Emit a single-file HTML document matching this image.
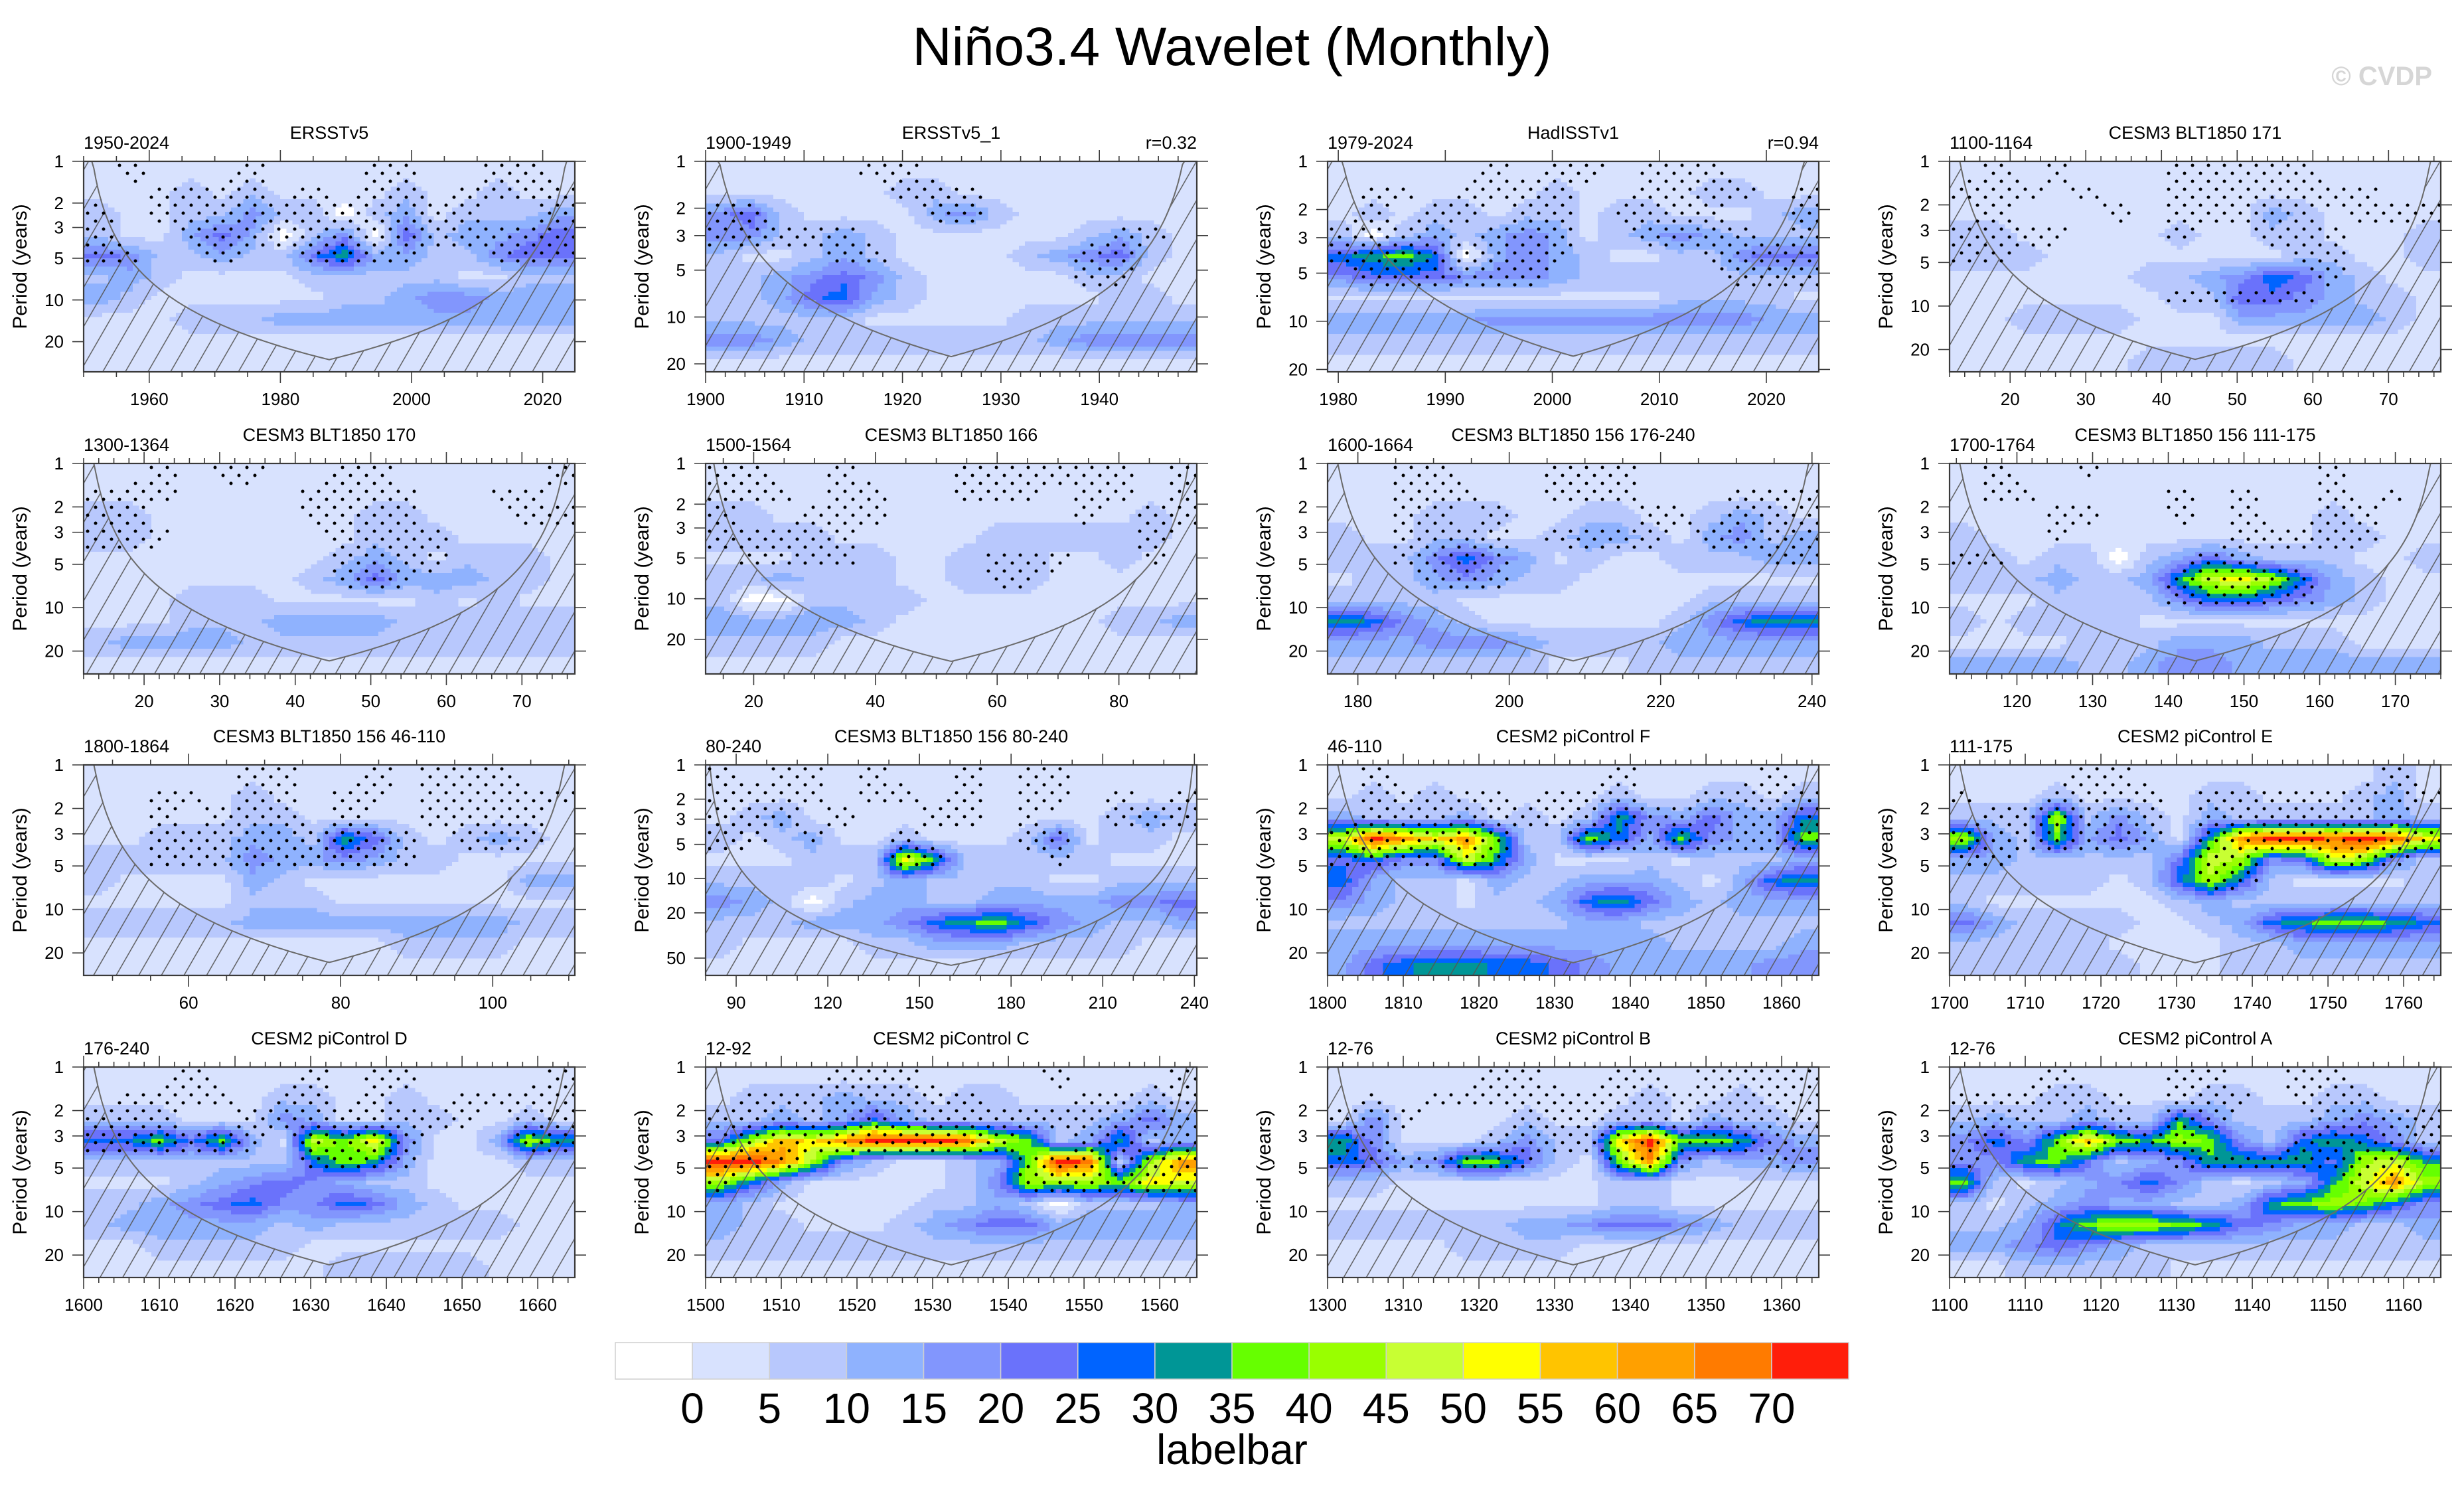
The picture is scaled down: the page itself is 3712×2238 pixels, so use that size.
<!DOCTYPE html>
<html><head><meta charset="utf-8"><title>Niño3.4 Wavelet (Monthly)</title>
<style>
html,body{margin:0;padding:0;background:#fff;}
svg{display:block;font-family:"Liberation Sans",Arial,sans-serif;}
</style></head>
<body>
<svg id="chart" xmlns="http://www.w3.org/2000/svg" width="3712" height="2238" viewBox="0 0 3712 2238">
<defs>
<pattern id="hatch" patternUnits="userSpaceOnUse" width="29.5" height="40" patternTransform="rotate(30)">
<line x1="1" y1="0" x2="1" y2="40" stroke="#555" stroke-width="1.4"/>
</pattern>
</defs>
<rect x="0" y="0" width="3712" height="2238" fill="#fff"/>
<text x="1856" y="98" text-anchor="middle" font-size="82" fill="#000">Niño3.4 Wavelet (Monthly)</text>
<text x="3664" y="128" text-anchor="end" font-size="40" font-weight="bold" fill="#d6d6d6">© CVDP</text>
</svg>
<script>
// ---------- panel metadata ----------
const panelTitles = ["ERSSTv5","ERSSTv5_1","HadISSTv1","CESM3 BLT1850 171","CESM3 BLT1850 170","CESM3 BLT1850 166","CESM3 BLT1850 156 176-240","CESM3 BLT1850 156 111-175","CESM3 BLT1850 156 46-110","CESM3 BLT1850 156 80-240","CESM2 piControl F","CESM2 piControl E","CESM2 piControl D","CESM2 piControl C","CESM2 piControl B","CESM2 piControl A"];
const panelYears = ["1950-2024","1900-1949","1979-2024","1100-1164","1300-1364","1500-1564","1600-1664","1700-1764","1800-1864","80-240","46-110","111-175","176-240","12-92","12-76","12-76"];
const rLabels = ["","r=0.32","r=0.94","","","","","","","","","","","","",""];
const xStart = [1950,1900,1979,12,12,12.1,176,111.1,46.2,80,1800,1700,1600,1500,1300,1100];
const xEnd = [2024.9,1949.9,2024.9,76.9,77,92.8,240.9,176,110.8,240.8,1864.9,1764.9,1664.9,1564.9,1364.9,1164.9];
const xMajorStep = [20,10,10,10,10,20,20,10,20,30,10,10,10,10,10,10];
const xMinorStep = [5,2,0,2,2,5,5,2,5,10,2,2,2,2,2,2];
const pMax = [33,22.5,20.7,28.5,28.8,36,28.8,28.8,28.6,71,28.6,28.6,28.6,28.6,28.6,28.6];
const yTickValues = [1,2,3,5,10,20,50];
const levelLabels = [0,5,10,15,20,25,30,35,40,45,50,55,60,65,70];
const levelColors = ['#ffffff','#d8e2fe','#b8c8fd','#8fb2fe','#8296fd','#6a72fb','#0064ff','#009696','#66ff00','#99ff00','#c8ff33','#ffff00','#ffc400','#ffa000','#ff7b00','#ff1e0a'];

// ---------- wavelet power (rows: period bands top->bottom, cols: time) ----------
const power1 = [
[3,3,3,3,3,3,3,3,3,3,3,3,3,3,3,3],
[3,3,3,8,3,8,3,3,3,3,8,3,3,8,3,3],
[8,3,3,8,8,18,8,8,-3,8,13,3,8,8,8,13],
[8,3,3,13,23,13,-3,8,18,-3,23,8,13,13,18,23],
[23,18,8,8,13,8,8,23,33,13,13,8,8,18,23,23],
[8,13,8,3,3,3,3,8,8,8,8,8,3,3,8,8],
[13,8,3,3,3,3,3,3,8,8,13,18,18,13,13,13],
[3,3,3,8,8,8,13,13,13,13,13,13,13,13,13,13],
[3,3,3,3,3,3,3,3,3,3,3,3,3,3,3,3],
[3,3,3,3,3,3,3,3,3,3,3,3,3,3,3,3]];
const power2 = [
[3,3,3,3,3,3,3,3,3,3,3,3,3,3,3,3],
[3,3,3,3,3,3,8,8,3,3,3,3,3,3,3,3],
[18,23,8,3,3,3,3,13,18,8,3,3,3,3,3,3],
[18,18,8,8,13,8,3,3,3,3,3,3,8,13,8,3],
[8,3,3,8,13,8,3,3,3,3,8,13,18,23,8,3],
[8,8,13,18,23,18,8,3,3,3,3,3,8,8,3,3],
[8,8,13,23,28,13,8,3,3,3,3,3,3,8,8,3],
[8,8,8,8,8,3,3,3,3,3,8,8,8,8,8,8],
[18,18,13,8,8,8,8,8,8,8,8,13,18,18,18,18],
[3,3,3,3,3,3,3,3,3,3,3,3,3,3,3,3]];
const power3 = [
[3,3,3,3,3,3,3,3,3,3,3,3,3,3,3,3],
[3,3,3,3,3,3,3,8,3,3,3,3,8,8,3,3],
[3,8,3,8,8,3,8,8,3,8,8,3,3,3,8,13],
[8,-3,8,13,8,13,18,13,3,8,13,18,13,8,8,8],
[28,33,38,28,-3,13,18,13,8,3,3,8,8,18,23,23],
[18,23,23,23,18,18,18,13,8,8,8,8,8,8,8,8],
[3,3,3,3,3,3,3,3,3,3,3,8,8,8,8,3],
[13,13,13,13,13,18,18,18,18,18,18,18,18,18,13,13],
[8,8,8,8,8,8,8,8,8,8,8,8,8,8,8,8],
[3,3,3,3,3,3,3,3,3,3,3,3,3,3,3,3]];
const power4 = [
[3,3,3,3,3,3,3,3,3,3,3,3,3,3,3,3],
[3,3,3,3,3,3,3,3,3,3,3,3,3,3,3,3],
[3,3,3,3,3,3,3,3,3,3,13,8,3,3,3,3],
[8,8,3,3,3,3,3,8,3,3,8,8,3,3,3,8],
[8,8,8,3,3,3,3,3,3,3,3,8,8,3,3,8],
[3,3,3,3,3,3,8,8,13,18,28,23,13,8,3,3],
[3,3,3,3,3,3,3,8,8,23,23,18,13,8,8,3],
[3,3,8,8,8,8,3,3,3,13,13,13,13,13,8,3],
[3,3,3,3,3,3,3,3,3,3,3,3,3,3,3,3],
[3,3,3,3,3,3,8,8,8,8,8,3,3,3,3,3]];
const power5 = [
[3,3,3,3,3,3,3,3,3,3,3,3,3,3,3,3],
[3,3,3,3,3,3,3,3,3,3,3,3,3,3,3,3],
[8,8,3,3,3,3,3,3,3,8,8,3,3,3,3,3],
[8,8,3,3,3,3,3,3,3,8,8,8,3,3,3,3],
[3,3,3,3,3,3,3,3,8,13,8,3,8,8,8,3],
[3,3,3,3,3,3,3,8,13,23,13,13,13,8,8,3],
[3,3,3,8,8,8,3,3,3,3,3,8,3,8,3,3],
[3,3,3,8,8,8,13,13,13,13,8,8,8,8,8,8],
[8,13,13,13,13,8,8,8,8,8,8,8,8,8,8,8],
[3,3,3,3,3,3,3,3,3,3,3,3,3,3,3,3]];
const power6 = [
[3,3,3,3,3,3,3,3,3,3,3,3,3,3,3,3],
[3,3,3,3,3,3,3,3,3,3,3,3,3,3,3,3],
[8,8,3,3,3,3,3,3,3,3,3,3,3,3,8,3],
[8,8,8,8,3,3,3,3,3,8,8,8,8,8,8,3],
[3,3,3,8,8,8,3,3,8,8,8,3,3,8,3,3],
[8,8,13,8,8,8,3,3,8,8,8,3,3,3,3,3],
[8,-3,-3,8,8,8,8,3,3,3,3,3,3,3,3,3],
[13,13,13,13,13,8,3,3,3,3,3,3,3,8,8,13],
[8,8,8,8,3,3,3,3,3,3,3,3,3,3,3,3],
[3,3,3,3,3,3,3,3,3,3,3,3,3,3,3,3]];
const power7 = [
[3,3,3,3,3,3,3,3,3,3,3,3,3,3,3,3],
[3,3,3,3,3,3,3,3,3,3,3,3,3,3,3,3],
[3,3,3,8,8,8,3,3,8,8,3,3,8,13,8,3],
[8,3,3,8,8,3,3,8,13,13,8,3,13,18,8,13],
[8,8,8,18,28,18,13,3,8,3,3,8,8,8,13,13],
[3,8,8,13,18,13,8,8,3,3,3,3,3,3,3,3],
[8,8,8,8,3,3,3,3,3,3,3,3,8,8,8,8],
[33,28,18,13,8,3,3,3,3,3,3,8,18,28,33,33],
[13,13,13,18,18,18,13,8,8,8,8,13,13,13,13,13],
[8,8,8,8,8,8,8,3,3,3,8,8,8,8,8,8]];
const power8 = [
[3,3,3,3,3,3,3,3,3,3,3,3,3,3,3,3],
[3,3,3,3,3,3,3,3,3,3,3,3,3,3,3,3],
[3,3,3,3,3,3,3,3,3,3,3,3,8,3,3,3],
[8,3,3,3,3,3,3,3,3,3,3,3,8,8,3,3],
[8,8,3,8,8,-3,8,13,23,13,8,8,8,3,3,8],
[8,8,8,13,8,8,13,33,48,53,43,28,13,8,3,3],
[3,3,3,8,8,8,8,18,28,28,23,18,13,8,3,3],
[8,3,8,8,8,8,3,3,3,3,3,3,3,3,3,3],
[3,3,3,3,8,8,8,13,13,13,8,8,8,3,3,3],
[13,13,13,13,8,8,13,18,18,13,13,13,13,13,13,13]];
const power9 = [
[3,3,3,3,3,3,3,3,3,3,3,3,3,3,3,3],
[3,3,3,3,3,8,3,3,3,3,3,3,3,3,3,3],
[3,3,3,3,3,8,8,3,3,3,3,3,3,3,3,3],
[3,3,8,8,8,13,13,8,33,23,8,3,8,13,8,3],
[8,8,8,8,8,18,13,13,18,13,8,8,3,3,3,3],
[8,3,3,3,3,13,8,3,3,3,3,3,3,3,13,13],
[3,3,3,3,3,8,8,8,3,3,3,3,3,3,3,3],
[8,8,8,8,8,13,13,13,13,13,13,13,13,13,8,8],
[3,3,3,3,3,3,3,3,3,3,8,8,8,8,3,3],
[3,3,3,3,3,3,3,3,3,3,3,3,3,3,3,3]];
const power10 = [
[3,3,3,3,3,3,3,3,3,3,3,3,3,3,3,3],
[3,3,3,3,3,3,3,3,3,3,3,3,3,3,3,3],
[3,8,13,3,3,3,3,3,3,3,3,3,3,8,13,8],
[8,3,8,13,3,3,8,3,3,3,8,23,3,8,8,3],
[3,3,3,8,8,8,53,33,8,8,8,8,8,3,3,3],
[8,8,8,8,3,8,13,8,8,8,8,3,3,8,8,8],
[18,13,8,-3,8,13,13,8,8,13,13,13,13,18,18,23],
[8,8,8,13,13,13,18,28,33,38,28,18,13,8,8,13],
[8,3,3,3,3,8,8,13,13,13,8,8,8,8,3,3],
[3,3,3,3,3,3,3,3,3,3,3,3,3,3,3,3]];
const power11 = [
[3,3,3,3,3,3,3,3,3,3,3,3,3,3,3,3],
[3,8,3,8,3,3,3,3,3,8,3,3,8,8,3,8],
[13,8,8,8,13,3,8,3,8,33,18,13,23,13,13,28],
[48,73,63,53,63,38,8,8,38,28,13,38,18,13,13,38],
[23,28,18,18,48,33,13,3,3,3,8,3,8,8,8,13],
[28,13,8,8,3,13,8,8,13,13,13,8,3,13,28,33],
[18,13,8,8,3,8,8,13,28,33,23,13,8,13,13,13],
[8,8,8,8,8,8,8,8,13,13,8,8,8,8,8,8],
[13,13,13,13,13,13,13,13,13,13,13,8,8,8,8,13],
[13,23,28,33,33,28,28,23,18,13,13,13,13,13,18,18]];
const power12 = [
[3,3,3,3,3,3,3,3,3,3,3,3,3,3,8,3],
[3,3,3,8,3,3,3,3,8,8,3,3,3,8,13,3],
[8,8,8,43,8,18,8,3,13,8,8,8,8,8,13,8],
[43,13,8,38,13,23,13,3,33,63,73,73,68,73,68,53],
[13,13,8,8,8,8,8,23,48,43,18,23,48,43,18,8],
[8,8,8,8,8,3,8,28,43,28,8,3,3,3,3,8],
[8,3,3,3,3,3,3,8,13,8,8,8,8,8,8,8],
[23,13,8,8,8,8,3,3,8,13,28,33,38,38,33,28],
[8,8,8,8,8,3,3,3,3,8,8,13,13,13,13,13],
[8,8,8,8,8,8,3,3,3,8,8,8,8,8,8,8]];
const power13 = [
[3,3,3,3,3,3,3,3,3,3,3,3,3,3,3,3],
[3,3,3,3,3,3,8,8,3,3,8,3,3,3,3,3],
[8,8,8,3,3,3,18,13,3,3,8,8,3,3,8,3],
[28,28,38,23,38,13,3,48,38,53,18,3,3,13,43,33],
[8,8,8,8,8,8,8,28,38,33,13,3,3,3,8,8],
[3,3,3,8,13,18,23,18,13,8,8,3,3,3,3,3],
[8,8,13,18,23,28,18,18,28,23,13,8,3,3,3,3],
[8,13,13,13,13,13,8,13,8,8,8,8,8,8,3,3],
[3,3,8,8,8,8,8,3,3,3,3,3,3,3,3,3],
[3,3,3,3,3,3,3,3,8,8,8,8,8,3,3,3]];
const power14 = [
[3,3,3,3,3,3,3,3,3,3,3,3,3,3,3,3],
[3,8,8,8,13,8,8,3,8,8,3,3,3,3,8,3],
[8,8,13,8,13,28,13,8,8,8,8,8,8,13,23,13],
[23,43,58,53,63,73,73,73,68,48,38,8,13,33,8,13],
[73,73,63,43,18,8,3,3,8,13,38,73,68,8,43,63],
[43,28,13,3,3,3,3,3,8,18,43,43,43,38,53,48],
[13,8,3,3,3,3,3,8,8,13,8,-3,8,8,8,13],
[13,8,8,3,3,3,8,13,18,23,23,13,13,13,13,13],
[8,8,8,8,8,8,8,8,8,8,8,8,8,8,8,8],
[3,3,3,3,3,3,3,3,3,3,3,3,3,3,3,3]];
const power15 = [
[3,3,3,3,3,3,3,3,3,3,3,3,3,3,3,3],
[3,3,3,3,3,3,3,3,3,3,8,3,3,8,3,3],
[3,18,3,3,3,3,8,3,3,8,8,3,13,8,8,3],
[33,18,3,3,3,8,18,8,8,53,73,38,38,33,18,13],
[28,23,13,18,38,38,23,8,3,38,63,18,8,13,13,18],
[8,8,3,3,3,3,3,3,3,8,8,3,3,3,3,3],
[3,3,3,3,3,3,3,3,3,8,8,3,3,3,3,3],
[8,8,8,8,8,8,13,13,18,23,23,18,13,8,8,8],
[3,3,3,3,8,8,8,8,3,3,3,3,3,3,3,3],
[3,3,3,3,3,3,3,3,3,3,3,3,3,3,3,3]];
const power16 = [
[3,3,3,3,3,3,3,3,3,3,3,3,3,3,3,3],
[3,3,3,8,8,3,3,3,8,8,3,3,8,8,3,3],
[8,13,8,8,13,8,8,33,18,8,8,8,13,18,13,8],
[18,28,18,38,58,38,33,43,38,18,8,28,33,28,18,8],
[18,18,33,38,23,8,13,18,33,33,33,33,23,43,48,33],
[38,8,3,8,13,18,28,18,8,3,8,13,33,48,63,43],
[8,3,8,13,18,13,13,8,8,13,33,38,43,38,28,18],
[8,8,13,28,38,43,43,38,33,23,18,13,13,8,8,13],
[13,13,18,23,18,13,8,8,8,8,8,8,8,8,8,8],
[3,3,8,8,8,8,8,3,3,3,3,3,3,3,3,3]];

// ---------- significance (stippling) masks; missing rows = not significant ----------
const sig1 = [
[0,1,0,0,0,1,0,0,0,1,1,0,0,1,1,0],
[0,0,1,1,1,1,0,1,0,1,1,0,1,1,1,1],
[1,0,1,1,1,1,1,1,1,1,1,1,1,0,0,1],
[1,0,0,1,1,1,1,1,1,1,1,1,1,1,1,1],
[1,1,0,0,1,0,0,1,1,1,1,0,0,1,1,1]];
const sig2 = [
[0,0,0,0,0,1,1,0,0,0,0,0,0,0,0,0],
[0,0,0,0,0,0,1,1,1,0,0,0,0,0,0,0],
[1,1,0,0,0,0,0,1,1,0,0,0,0,0,0,0],
[1,1,1,1,1,0,0,0,0,0,0,0,0,1,1,0],
[0,0,0,0,1,1,0,0,0,0,0,0,1,1,0,0],
[0,0,0,0,0,0,0,0,0,0,0,0,1,1,0,0]];
const sig3 = [
[0,0,0,0,0,1,0,1,1,0,1,1,1,0,0,0],
[0,1,1,0,1,1,1,1,0,0,1,1,1,1,0,1],
[0,1,0,1,1,0,1,1,0,1,1,1,1,0,0,1],
[1,1,1,1,0,1,1,1,0,0,1,1,1,1,0,1],
[1,1,1,1,1,1,1,1,0,0,0,0,1,1,1,1],
[0,1,1,1,1,1,1,0,0,0,0,0,0,1,1,1]];
const sig4 = [
[0,1,0,1,0,0,0,1,1,1,1,1,0,0,0,0],
[1,1,1,0,1,0,0,1,1,1,1,1,1,1,0,0],
[0,1,0,0,0,1,0,1,1,1,1,1,0,1,1,1],
[1,1,1,1,0,0,0,1,0,0,1,1,1,0,0,0],
[1,1,0,0,0,0,0,0,0,0,0,1,1,0,0,0],
[0,0,0,0,0,0,0,0,0,0,0,0,1,0,0,0],
[0,0,0,0,0,0,0,1,1,1,1,1,0,0,0,0]];
const sig5 = [
[0,0,1,0,1,1,0,0,1,1,0,0,0,0,0,1],
[1,1,1,0,0,0,0,1,1,1,1,0,0,1,1,0],
[1,1,0,0,0,0,0,1,1,1,1,0,0,0,1,1],
[1,1,1,0,0,0,0,0,1,1,1,1,0,0,0,0],
[0,0,0,0,0,0,0,0,1,1,1,1,0,0,0,0],
[0,0,0,0,0,0,0,0,1,1,1,0,0,0,0,0]];
const sig6 = [
[1,1,0,0,1,0,0,0,1,1,1,1,1,1,0,1],
[1,1,1,0,1,1,0,0,1,1,1,0,1,1,0,1],
[1,0,0,1,1,1,0,0,0,0,0,0,1,0,1,1],
[1,1,1,1,1,0,0,0,0,0,0,0,0,0,1,0],
[0,1,1,1,1,0,0,0,0,1,1,1,0,0,1,0],
[0,0,0,0,0,0,0,0,0,1,1,0,0,0,0,0]];
const sig7 = [
[0,0,1,1,0,0,0,1,1,1,0,0,0,0,0,0],
[0,0,1,1,1,0,0,1,1,1,0,0,0,1,1,1],
[0,0,1,1,0,1,0,0,0,0,1,1,0,1,1,1],
[0,0,1,1,1,1,0,1,1,1,1,0,1,1,1,1],
[0,0,1,1,1,1,0,0,0,0,0,0,0,0,1,1],
[0,0,0,1,1,1,0,0,0,0,0,0,0,0,0,0]];
const sig8 = [
[0,1,0,0,1,0,0,0,0,0,0,0,1,0,0,0],
[0,1,1,0,0,0,0,1,0,1,0,0,1,0,1,0],
[0,0,0,1,1,0,0,1,0,1,0,0,1,1,0,0],
[0,0,0,1,0,0,0,0,0,1,1,1,1,1,0,0],
[1,1,0,0,0,0,0,0,1,1,0,0,0,0,0,0],
[0,0,0,0,0,0,0,1,1,1,1,1,0,0,0,0],
[0,0,0,0,0,0,0,1,1,1,1,1,0,0,0,0]];
const sig9 = [
[0,0,0,0,0,1,1,0,0,1,0,1,1,1,0,0],
[0,0,1,1,0,1,1,0,1,1,0,1,1,1,1,1],
[0,0,1,0,1,1,1,0,1,0,0,1,1,1,1,0],
[0,0,1,1,1,1,1,1,1,1,1,0,1,1,1,0],
[0,0,1,1,1,1,1,1,1,1,1,0,0,0,0,0]];
const sig10 = [
[1,0,1,1,0,1,0,0,1,0,1,1,0,0,0,0],
[1,1,1,1,0,1,1,0,1,0,1,1,0,1,0,1],
[1,1,1,0,1,0,0,1,1,0,1,0,0,1,1,1],
[1,1,0,1,0,0,1,0,0,0,1,1,0,0,0,0],
[0,0,0,0,0,0,1,1,0,0,0,1,0,0,0,0]];
const sig11 = [
[0,1,0,0,0,0,0,0,0,1,0,0,0,0,1,0],
[0,1,1,1,1,1,0,1,1,1,0,0,1,1,1,1],
[0,1,1,1,1,1,1,1,1,1,1,1,1,1,1,1],
[1,1,1,1,1,1,0,0,1,1,1,1,1,1,1,1],
[1,1,1,1,1,1,0,0,0,0,0,0,0,0,0,0]];
const sig12 = [
[0,0,0,0,1,1,0,0,0,0,0,0,0,0,1,0],
[1,0,0,1,1,1,1,0,1,1,1,1,1,1,1,1],
[0,1,1,1,1,1,1,0,1,1,1,1,1,1,1,0],
[1,1,1,1,1,1,1,0,1,1,1,1,1,1,1,1],
[1,1,0,0,0,0,0,0,1,1,0,0,1,1,1,0],
[0,0,0,0,0,0,0,0,1,1,0,0,0,0,0,0]];
const sig13 = [
[0,0,0,1,0,0,0,1,0,1,1,0,0,0,0,1],
[0,1,1,1,1,0,1,1,0,1,0,0,1,1,1,1],
[1,1,1,0,0,1,1,1,1,1,1,1,1,0,1,1],
[1,1,1,1,1,1,0,1,1,1,1,0,0,0,1,1],
[0,0,0,0,0,0,0,1,1,1,1,0,0,0,0,0]];
const sig14 = [
[0,0,0,0,1,1,1,0,0,0,0,1,0,0,0,1],
[0,1,1,1,1,1,1,1,1,0,0,0,1,1,1,1],
[1,1,1,1,1,1,1,1,1,1,1,1,1,1,1,1],
[1,1,1,1,1,1,1,1,1,1,0,0,1,1,1,1],
[1,1,1,0,0,0,0,0,0,0,1,1,1,1,1,1],
[1,0,0,0,0,0,0,0,0,0,1,1,1,1,1,1]];
const sig15 = [
[0,0,0,0,0,1,1,0,0,1,1,0,1,1,1,1],
[0,1,0,1,1,1,1,1,1,1,1,1,1,1,1,1],
[1,1,1,0,0,0,1,1,1,1,1,1,1,1,1,1],
[1,1,0,0,0,1,1,1,1,1,1,1,1,1,1,1],
[1,1,1,1,1,1,1,0,0,1,1,1,0,0,1,1]];
const sig16 = [
[0,0,0,1,0,0,0,1,1,0,0,1,1,0,0,0],
[1,1,1,1,1,1,0,1,1,1,0,1,1,1,0,0],
[1,1,1,0,1,1,0,1,1,0,0,0,1,1,1,1],
[1,1,0,1,1,1,1,1,0,0,0,1,1,1,1,1],
[1,0,0,0,0,0,0,1,1,1,1,1,1,1,1,0],
[0,0,0,0,0,0,0,0,0,0,0,0,0,1,1,0]];

const powerGrids = [power1,power2,power3,power4,power5,power6,power7,power8,power9,power10,power11,power12,power13,power14,power15,power16];
const sigGrids = [sig1,sig2,sig3,sig4,sig5,sig6,sig7,sig8,sig9,sig10,sig11,sig12,sig13,sig14,sig15,sig16];

// ---------- drawing ----------
const NS = 'http://www.w3.org/2000/svg';
const svg = document.getElementById('chart');
function mk(tag, parent){ const e = document.createElementNS(NS, tag); parent.appendChild(e); return e; }
function levelIndex(v){ if (v < levelLabels[0]) return 0; let i = 1; while (i < levelLabels.length && v >= levelLabels[i]) i++; return i; }

const colLeft = [126, 1063, 2000, 2937];
const rowTop = [243, 698, 1152, 1607];
const PW = 740, PH = 317;
const SUB = 5;

function bilinear(grid, nx, ny, fx, fy, dflt){
  function at(r, c){ return (grid[r] && grid[r][c] !== undefined) ? grid[r][c] : dflt; }
  fx = Math.max(0, Math.min(nx - 1, fx)); fy = Math.max(0, Math.min(ny - 1, fy));
  const ix = Math.min(nx - 2, Math.floor(fx)), iy = Math.min(ny - 2, Math.floor(fy));
  const tx = fx - ix, ty = fy - iy;
  return (at(iy, ix) * (1 - tx) + at(iy, ix + 1) * tx) * (1 - ty) + (at(iy + 1, ix) * (1 - tx) + at(iy + 1, ix + 1) * tx) * ty;
}

function drawPanel(pi){
  const left = colLeft[pi % 4], top = rowTop[Math.floor(pi / 4)];
  const grid = powerGrids[pi], mask = sigGrids[pi];
  const ny = grid.length, nx = grid[0].length;
  const x0 = xStart[pi], x1 = xEnd[pi], pm = pMax[pi];
  const xScale = v => left + (v - x0) / (x1 - x0) * PW;
  const yScale = p => top + PH * Math.log10(p) / Math.log10(pm);

  const g = mk('g', svg);
  
  

  const clipId = 'clip' + pi;
  const cp = mk('clipPath', g); cp.setAttribute('id', clipId);
  const cr = mk('rect', cp);
  cr.setAttribute('x', left); cr.setAttribute('y', top); cr.setAttribute('width', PW); cr.setAttribute('height', PH);

  const hm = mk('g', g);
  hm.setAttribute('clip-path', 'url(#' + clipId + ')');
  
  
  hm.setAttribute('shape-rendering', 'crispEdges');

  const sx = nx * SUB, sy = ny * SUB;
  const cw = PW / sx, ch = PH / sy;
  for (let j = 0; j < sy; j++){
    const fy = (j + 0.5) / SUB - 0.5;
    let runStart = 0, runLev = -1;
    for (let i = 0; i <= sx; i++){
      const lev = i < sx ? levelIndex(bilinear(grid, nx, ny, (i + 0.5) / SUB - 0.5, fy, 3)) : -2;
      if (lev !== runLev){
        if (runLev >= 0){
          const r = mk('rect', hm);
          
          
          r.setAttribute('x', (left + runStart * cw).toFixed(2));
          r.setAttribute('y', (top + j * ch).toFixed(2));
          r.setAttribute('width', ((i - runStart) * cw + 0.6).toFixed(2));
          r.setAttribute('height', (ch + 0.6).toFixed(2));
          r.setAttribute('fill', levelColors[runLev]);
        }
        runStart = i; runLev = lev;
      }
    }
  }

  // cone of influence
  const pts = [];
  const N = 240;
  for (let k = 0; k <= N; k++){
    const t = x0 + (x1 - x0) * k / N;
    const p = 0.72 * Math.min(t - x0, x1 - t);
    let y = p <= 1 ? top : yScale(p);
    y = Math.min(top + PH, Math.max(top, y));
    pts.push(xScale(t).toFixed(1) + ',' + y.toFixed(1));
  }
  const coiArea = mk('polygon', g);
  
  
  coiArea.setAttribute('points', pts.join(' ') + ' ' + (left + PW) + ',' + (top + PH) + ' ' + left + ',' + (top + PH));
  coiArea.setAttribute('fill', 'url(#hatch)');
  const coiLine = mk('polyline', g);
  
  
  coiLine.setAttribute('points', pts.join(' '));
  coiLine.setAttribute('fill', 'none');
  coiLine.setAttribute('stroke', '#6a6a6a');
  coiLine.setAttribute('stroke-width', '2');

  // significance stippling
  const dots = mk('g', g);
  
  
  let rr = 0;
  for (let y = top + 6; y < top + PH; y += 12, rr++){
    for (let x = left + 6 + (rr % 2) * 12; x < left + PW; x += 24){
      const fx = (x - left) / PW * nx - 0.5, fy = (y - top) / PH * ny - 0.5;
      if (bilinear(mask, nx, ny, fx, fy, 0) > 0.5){
        const c = mk('circle', dots);
        
        
        c.setAttribute('cx', x); c.setAttribute('cy', y); c.setAttribute('r', '2.5');
        c.setAttribute('fill', '#000');
      }
    }
  }

  // frame
  const frame = mk('rect', g);
  
  
  frame.setAttribute('x', left); frame.setAttribute('y', top);
  frame.setAttribute('width', PW); frame.setAttribute('height', PH);
  frame.setAttribute('fill', 'none'); frame.setAttribute('stroke', '#3a3a3a'); frame.setAttribute('stroke-width', '2.2');

  const ticks = mk('g', g);
  
  
  ticks.setAttribute('stroke', '#3a3a3a'); ticks.setAttribute('stroke-width', '1.6');
  function tick(xa, ya, xb, yb){ const l = mk('line', ticks); l.setAttribute('x1', xa); l.setAttribute('y1', ya); l.setAttribute('x2', xb); l.setAttribute('y2', yb); }

  const ms = xMinorStep[pi];
  if (ms > 0){
    for (let v = Math.ceil(x0 / ms) * ms; v <= x1 + 1e-9; v += ms){
      if (Math.abs(v / xMajorStep[pi] - Math.round(v / xMajorStep[pi])) < 1e-6) continue;
      const x = xScale(v);
      tick(x, top, x, top - 8); tick(x, top + PH, x, top + PH + 8);
    }
  }
  const xl = mk('g', g);
  
  
  for (let v = Math.ceil(x0 / xMajorStep[pi]) * xMajorStep[pi]; v <= x1 + 1e-9; v += xMajorStep[pi]){
    const x = xScale(v);
    tick(x, top, x, top - 17); tick(x, top + PH, x, top + PH + 17);
    const t = mk('text', xl);
    
    
    t.setAttribute('x', x.toFixed(1)); t.setAttribute('y', top + PH + 50);
    t.setAttribute('text-anchor', 'middle'); t.setAttribute('font-size', '26');
    t.textContent = String(v);
  }
  const yl = mk('g', g);
  
  
  yTickValues.forEach(p => {
    if (p > pm) return;
    const y = yScale(p);
    tick(left - 17, y, left, y); tick(left + PW, y, left + PW + 17, y);
    const t = mk('text', yl);
    
    
    t.setAttribute('x', left - 30); t.setAttribute('y', (y + 9).toFixed(1));
    t.setAttribute('text-anchor', 'end'); t.setAttribute('font-size', '26');
    t.textContent = String(p);
  });

  const yt = mk('text', g);
  
  
  yt.setAttribute('transform', 'translate(' + (left - 86) + ',' + (top + PH / 2) + ') rotate(-90)');
  yt.setAttribute('text-anchor', 'middle'); yt.setAttribute('font-size', '30');
  yt.textContent = 'Period (years)';

  const tt = mk('text', g);
  
  
  tt.setAttribute('x', left + PW / 2); tt.setAttribute('y', top - 34);
  tt.setAttribute('text-anchor', 'middle'); tt.setAttribute('font-size', '27');
  tt.textContent = panelTitles[pi];

  const yr = mk('text', g);
  
  
  yr.setAttribute('x', left); yr.setAttribute('y', top - 19);
  yr.setAttribute('font-size', '27');
  yr.textContent = panelYears[pi];

  if (rLabels[pi]){
    const rl = mk('text', g);
    
    
    rl.setAttribute('x', left + PW); rl.setAttribute('y', top - 19);
    rl.setAttribute('text-anchor', 'end'); rl.setAttribute('font-size', '27');
    rl.textContent = rLabels[pi];
  }
}
for (let i = 0; i < 16; i++) drawPanel(i);

// ---------- label bar ----------
const lb = mk('g', svg);


const lbLeft = 927, lbTop = 2022, lbW = 1858, lbH = 55;
const boxW = lbW / levelColors.length;
levelColors.forEach((c, i) => {
  const r = mk('rect', lb);
  
  
  r.setAttribute('x', (lbLeft + i * boxW).toFixed(1)); r.setAttribute('y', lbTop);
  r.setAttribute('width', boxW.toFixed(1)); r.setAttribute('height', lbH);
  r.setAttribute('fill', c); r.setAttribute('stroke', '#cfcfcf'); r.setAttribute('stroke-width', '1.5');
});
levelLabels.forEach((v, i) => {
  const t = mk('text', lb);
  
  
  t.setAttribute('x', (lbLeft + (i + 1) * boxW).toFixed(1)); t.setAttribute('y', 2143);
  t.setAttribute('text-anchor', 'middle'); t.setAttribute('font-size', '64');
  t.textContent = String(v);
});
const lbt = mk('text', lb);


lbt.setAttribute('x', 1856); lbt.setAttribute('y', 2205);
lbt.setAttribute('text-anchor', 'middle'); lbt.setAttribute('font-size', '64');
lbt.textContent = 'labelbar';
</script>
</body></html>
